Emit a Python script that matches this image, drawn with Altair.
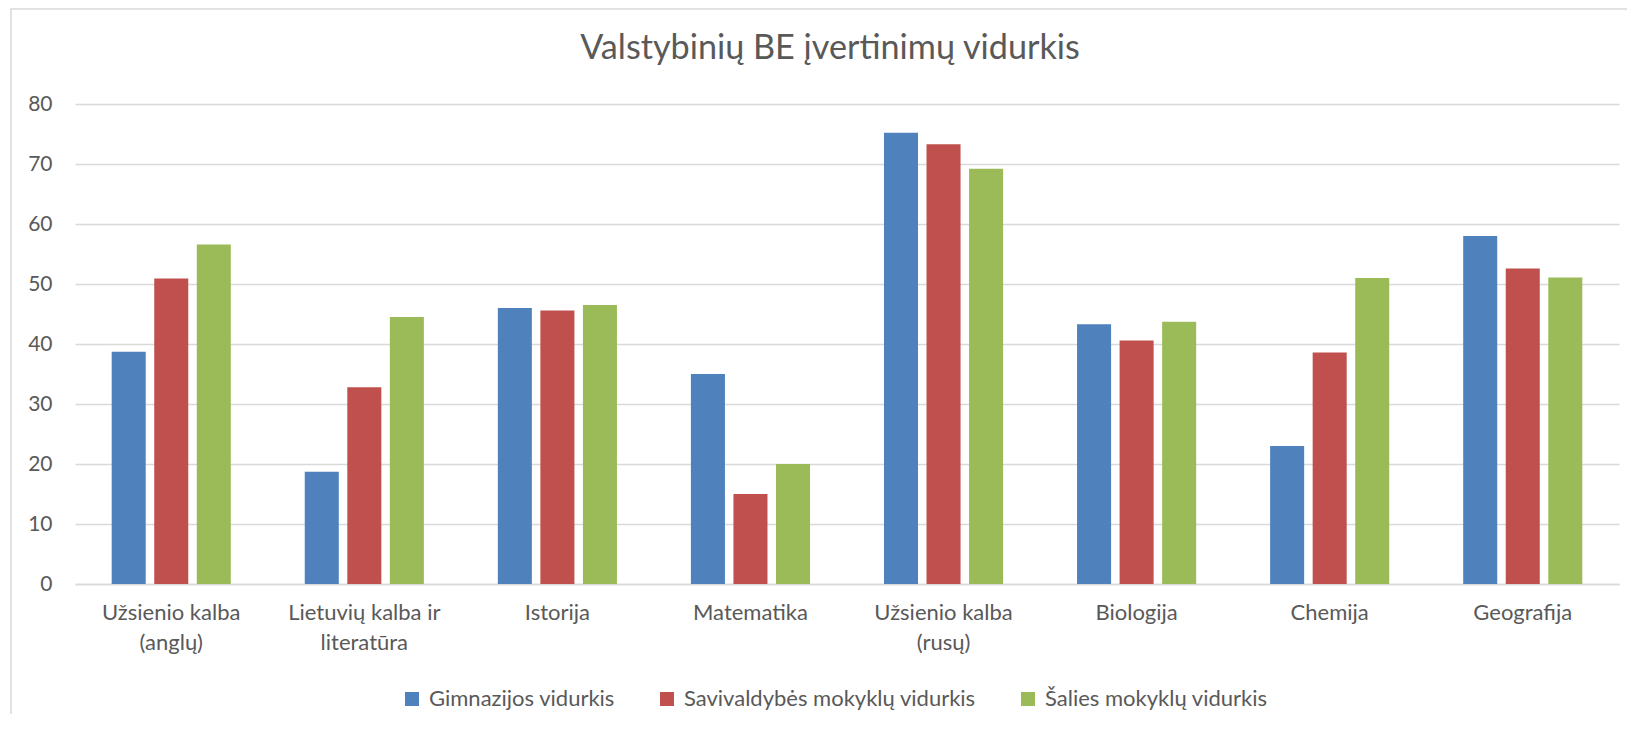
import altair as alt
import pandas as pd

categories = [
    "Užsienio kalba (anglų)",
    "Lietuvių kalba ir literatūra",
    "Istorija",
    "Matematika",
    "Užsienio kalba (rusų)",
    "Biologija",
    "Chemija",
    "Geografija",
]
series = ["Gimnazijos vidurkis", "Savivaldybės mokyklų vidurkis", "Šalies mokyklų vidurkis"]
gimnazija = [38.7, 18.7, 46.0, 35.0, 75.2, 43.3, 23.0, 58.0]
savivaldybe = [50.9, 32.8, 45.6, 15.0, 73.3, 40.6, 38.6, 52.6]
salis = [56.6, 44.5, 46.5, 20.0, 69.2, 43.7, 51.0, 51.1]
colors = ["#4F81BD", "#C0504D", "#9BBB59"]
y_ticks = [0, 10, 20, 30, 40, 50, 60, 70, 80]
title_text = "Valstybinių BE įvertinimų vidurkis"

rows = []
for s, vals in zip(series, [gimnazija, savivaldybe, salis]):
    for c, v in zip(categories, vals):
        rows.append({"Dalykas": c, "Serija": s, "Vidurkis": v})
df = pd.DataFrame(rows)

FONT = "Lato"
TXT = "#595959"
GRID = "#d9d9d9"

label_expr = (
    "length(datum.label) > 12 ? "
    "[slice(datum.label, 0, lastindexof(datum.label, ' ')), "
    "slice(datum.label, lastindexof(datum.label, ' ') + 1)] : datum.label"
)

bars = alt.Chart(df).mark_bar().encode(
    x=alt.X(
        "Dalykas:N",
        sort=categories,
        scale=alt.Scale(paddingInner=0.383, paddingOuter=0.19),
        axis=alt.Axis(
            title=None,
            labelAngle=0,
            labelExpr=label_expr,
            labelFont=FONT,
            labelFontSize=22,
            labelColor=TXT,
            labelPadding=18,
            labelLineHeight=30,
            labelLimit=400,
            ticks=False,
            domainColor=GRID,
            domainWidth=1.5,
        ),
    ),
    xOffset=alt.XOffset("Serija:N", sort=series, scale=alt.Scale(paddingInner=0.2, paddingOuter=0)),
    y=alt.Y(
        "Vidurkis:Q",
        scale=alt.Scale(domain=[0, 80], nice=False),
        axis=alt.Axis(
            values=y_ticks,
            title=None,
            domain=False,
            ticks=False,
            labelPadding=23,
            labelFont=FONT,
            labelFontSize=21,
            labelColor=TXT,
            gridColor=GRID,
            gridWidth=1.5,
        ),
    ),
    color=alt.Color(
        "Serija:N",
        sort=series,
        scale=alt.Scale(domain=series, range=colors),
        legend=alt.Legend(
            title=None,
            orient="none",
            direction="horizontal",
            legendX=326,
            legendY=584,
            padding=0,
            symbolType="square",
            symbolSize=196,
            symbolStrokeWidth=0,
            symbolOpacity=1,
            labelFont=FONT,
            labelFontSize=22,
            labelColor=TXT,
            labelOffset=6,
            labelLimit=500,
            columnPadding=41,
        ),
    ),
)

frame = alt.Chart(alt.Data(values=[{"k": 1}])).mark_rect(
    fill="white", fillOpacity=0, stroke=GRID, strokeWidth=1.5
).encode(
    x=alt.value(-64), x2=alt.value(1600), y=alt.value(-95), y2=alt.value(700)
)

title = alt.Chart(alt.Data(values=[{"t": title_text}])).mark_text(
    font=FONT, fontSize=34.2, color=TXT, align="center", baseline="middle"
).encode(
    text="t:N", x=alt.value(755), y=alt.value(-55)
)

chart = alt.layer(frame, title, bars).properties(
    width=1544,
    height=480,
    padding={"left": 67, "top": 96, "right": 8, "bottom": 130},
    autosize=alt.AutoSizeParams(type="none"),
).configure_view(strokeWidth=0)

chart.save("out.html", embed_options={"renderer": "svg", "actions": False})
